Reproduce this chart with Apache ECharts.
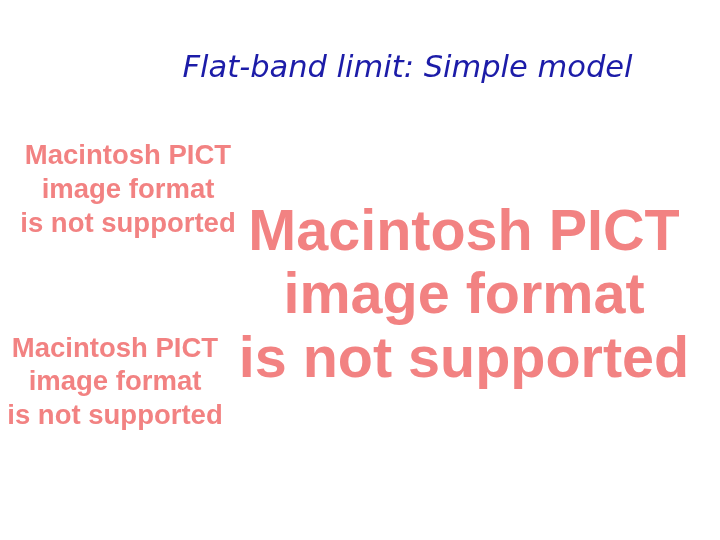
<!DOCTYPE html>
<html>
<head>
<meta charset="utf-8">
<script src="https://cdn.jsdelivr.net/npm/echarts@6/dist/echarts.min.js"></script>
<style>
html,body{margin:0;padding:0;background:#fff;}
#main{width:720px;height:540px;}
</style>
</head>
<body>
<div id="main"></div>
<script>
var titleText = 'Flat-band limit: Simple model';
var placeholderLines = ['Macintosh PICT', 'image format', 'is not supported'];
var blockNames = ['topLeft', 'center', 'bottomLeft'];

var chart = echarts.init(document.getElementById('main'), null, {renderer: 'canvas'});

var blocks = [
  {cx: 128, cy: 156, size: 27.5, lh: 34},
  {cx: 464, cy: 234, size: 57.5, lh: 63.5},
  {cx: 115, cy: 349, size: 27.5, lh: 33.5}
];

var elements = [];
blocks.forEach(function (b, bi) {
  placeholderLines.forEach(function (line, li) {
    elements.push({
      type: 'text',
      id: blockNames[bi] + '_' + li,
      style: {
        text: line,
        x: b.cx,
        y: b.cy + li * b.lh,
        align: 'center',
        verticalAlign: 'middle',
        fill: '#f28282',
        fontFamily: 'Liberation Sans',
        fontWeight: 'bold',
        fontSize: b.size
      }
    });
  });
});

elements.push({
  type: 'text',
  id: 'title',
  style: {
    text: titleText,
    x: 407.5,
    y: 69,
    align: 'center',
    verticalAlign: 'middle',
    fill: '#1c1ca8',
    fontFamily: 'DejaVu Sans',
    fontStyle: 'italic',
    fontSize: 30.5
  }
});

chart.setOption({
  backgroundColor: '#ffffff',
  animation: false,
  graphic: elements
});
</script>
</body>
</html>
